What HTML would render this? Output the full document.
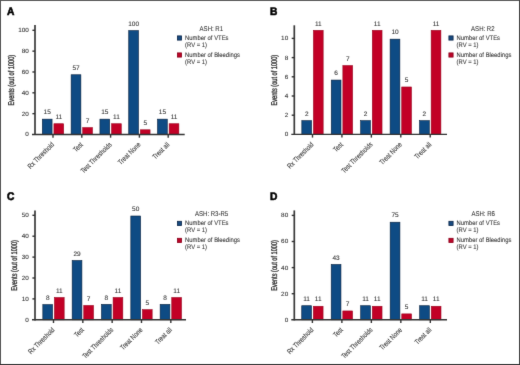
<!DOCTYPE html>
<html><head><meta charset="utf-8"><style>
html,body{margin:0;padding:0;background:#fff;}
body{width:520px;height:365px;overflow:hidden;}
svg{display:block;will-change:transform;}
text{text-rendering:geometricPrecision;font-family:"Liberation Sans", sans-serif;fill:#333;stroke:#333;stroke-width:0.08px;}
.let{font-size:11px;font-weight:bold;fill:#000;stroke:#000;stroke-width:0.6px;}
.val{font-size:6.5px;}
.tick{font-size:6.2px;}
.cat{font-size:7.2px;}
.ylab{font-size:8.4px;}
.ltitle{font-size:7.0px;}
.leg{font-size:6.6px;}
.val,.ltitle{text-anchor:middle;}
.tick,.cat{text-anchor:end;}
.ylab{text-anchor:middle;stroke:#333;stroke-width:0.36px;}
.bb{fill:#0e4b84;stroke:#061f3c;stroke-width:0.6px;}
.rb{fill:#c20026;stroke:#96001c;stroke-width:0.56px;}
.lb{fill:#174a80;stroke:#0b2548;stroke-width:0.8px;}
.lr{fill:#bb0529;stroke:#8a001a;stroke-width:0.8px;}
.ax{stroke:#333;stroke-width:1.4;}
.yax{stroke:#3a3a3a;stroke-width:1.7;}
</style></head><body>
<svg width="520" height="365" viewBox="0 0 520 365">
<defs><filter id="bl" x="0" y="0" width="1" height="1" color-interpolation-filters="sRGB"><feConvolveMatrix order="3" kernelMatrix="1 10 1 10 100 10 1 10 1" edgeMode="duplicate"/></filter></defs>
<g filter="url(#bl)">
<rect x="0" y="0" width="520" height="365" fill="#fff"/>
<line x1="0" y1="0.5" x2="520" y2="0.5" stroke="#5a5a5a"/>
<line x1="0.5" y1="0" x2="0.5" y2="365" stroke="#555"/>
<line x1="519.5" y1="0" x2="519.5" y2="365" stroke="#444"/>
<line x1="0" y1="364.5" x2="520" y2="364.5" stroke="#333"/>
<text transform="translate(6.9,14.7) scale(0.93,1)" class="let">A</text>
<rect x="42.33" y="119.15" width="9.74" height="15.35" class="bb"/>
<rect x="53.93" y="123.73" width="9.74" height="10.77" class="rb"/>
<text transform="translate(47.2,114.37)" class="val">15</text>
<text transform="translate(58.8,118.95)" class="val">11</text>
<line x1="53" y1="134.5" x2="53" y2="137.7" class="ax"/>
<text transform="translate(54.6,145.1) rotate(-45) scale(0.8,1.0)" class="cat">Rx Threshold</text>
<rect x="71.13" y="74.76" width="9.74" height="59.74" class="bb"/>
<rect x="82.73" y="127.59" width="9.74" height="6.91" class="rb"/>
<text transform="translate(76,69.98)" class="val">57</text>
<text transform="translate(87.6,122.81)" class="val">7</text>
<line x1="81.8" y1="134.5" x2="81.8" y2="137.7" class="ax"/>
<text transform="translate(83.4,145.1) rotate(-45) scale(0.8,1.0)" class="cat">Test</text>
<rect x="99.93" y="119.15" width="9.74" height="15.35" class="bb"/>
<rect x="111.53" y="123.73" width="9.74" height="10.77" class="rb"/>
<text transform="translate(104.8,114.37)" class="val">15</text>
<text transform="translate(116.4,118.95)" class="val">11</text>
<line x1="110.6" y1="134.5" x2="110.6" y2="137.7" class="ax"/>
<text transform="translate(112.2,145.1) rotate(-45) scale(0.8,1.0)" class="cat">Test Thresholds</text>
<rect x="128.73" y="30.58" width="9.74" height="103.92" class="bb"/>
<rect x="140.33" y="129.78" width="9.74" height="4.72" class="rb"/>
<text transform="translate(133.6,25.8)" class="val">100</text>
<text transform="translate(145.2,125)" class="val">5</text>
<line x1="139.4" y1="134.5" x2="139.4" y2="137.7" class="ax"/>
<text transform="translate(141,145.1) rotate(-45) scale(0.8,1.0)" class="cat">Treat None</text>
<rect x="157.53" y="119.15" width="9.74" height="15.35" class="bb"/>
<rect x="169.13" y="123.73" width="9.74" height="10.77" class="rb"/>
<text transform="translate(162.4,114.37)" class="val">15</text>
<text transform="translate(174,118.95)" class="val">11</text>
<line x1="168.2" y1="134.5" x2="168.2" y2="137.7" class="ax"/>
<text transform="translate(169.8,145.1) rotate(-45) scale(0.8,1.0)" class="cat">Treat all</text>
<line x1="35" y1="25.1" x2="35" y2="135.1" class="yax"/>
<line x1="32" y1="134.5" x2="184.7" y2="134.5" class="ax"/>
<text transform="translate(28.9,136.4) scale(1.03,1.0)" class="tick">0</text>
<line x1="32.4" y1="113.66" x2="35" y2="113.66" class="ax"/>
<text transform="translate(28.9,115.56) scale(1.03,1.0)" class="tick">20</text>
<line x1="32.4" y1="92.82" x2="35" y2="92.82" class="ax"/>
<text transform="translate(28.9,94.72) scale(1.03,1.0)" class="tick">40</text>
<line x1="32.4" y1="71.98" x2="35" y2="71.98" class="ax"/>
<text transform="translate(28.9,73.88) scale(1.03,1.0)" class="tick">60</text>
<line x1="32.4" y1="51.14" x2="35" y2="51.14" class="ax"/>
<text transform="translate(28.9,53.04) scale(1.03,1.0)" class="tick">80</text>
<line x1="32.4" y1="30.3" x2="35" y2="30.3" class="ax"/>
<text transform="translate(28.9,32.2) scale(1.03,1.0)" class="tick">100</text>
<text transform="translate(13.8,80.1) rotate(-90) scale(0.672,1.0)" class="ylab">Events (out of 1000)</text>
<text transform="translate(211.3,30.7) scale(0.86,1.0)" class="ltitle">ASH: R1</text>
<rect x="177.4" y="35.9" width="4.2" height="4.2" class="lb"/>
<rect x="177.4" y="52.9" width="4.2" height="4.2" class="lr"/>
<text transform="translate(185.1,39.9) scale(0.89,1.0)" class="leg">Number of VTEs</text>
<text transform="translate(185.1,46.9) scale(0.89,1.0)" class="leg">(RV = 1)</text>
<text transform="translate(185.1,56.7) scale(0.89,1.0)" class="leg">Number of Bleedings</text>
<text transform="translate(185.1,63.7) scale(0.89,1.0)" class="leg">(RV = 1)</text>
<text transform="translate(269.9,14.7) scale(0.93,1)" class="let">B</text>
<rect x="301.83" y="120.66" width="9.74" height="13.74" class="bb"/>
<rect x="313.43" y="30.33" width="9.74" height="104.07" class="rb"/>
<text transform="translate(306.7,115.88)" class="val">2</text>
<text transform="translate(318.3,25.55)" class="val">11</text>
<line x1="312.5" y1="134.4" x2="312.5" y2="137.6" class="ax"/>
<text transform="translate(314.1,145) rotate(-45) scale(0.8,1.0)" class="cat">Rx Threshold</text>
<rect x="331.26" y="80.06" width="9.74" height="54.34" class="bb"/>
<rect x="342.86" y="65.56" width="9.74" height="68.84" class="rb"/>
<text transform="translate(336.13,75.28)" class="val">6</text>
<text transform="translate(347.73,60.78)" class="val">7</text>
<line x1="341.93" y1="134.4" x2="341.93" y2="137.6" class="ax"/>
<text transform="translate(343.53,145) rotate(-45) scale(0.8,1.0)" class="cat">Test</text>
<rect x="360.69" y="120.66" width="9.74" height="13.74" class="bb"/>
<rect x="372.29" y="30.33" width="9.74" height="104.07" class="rb"/>
<text transform="translate(365.56,115.88)" class="val">2</text>
<text transform="translate(377.16,25.55)" class="val">11</text>
<line x1="371.36" y1="134.4" x2="371.36" y2="137.6" class="ax"/>
<text transform="translate(372.96,145) rotate(-45) scale(0.8,1.0)" class="cat">Test Thresholds</text>
<rect x="390.12" y="39.16" width="9.74" height="95.24" class="bb"/>
<rect x="401.72" y="86.97" width="9.74" height="47.43" class="rb"/>
<text transform="translate(394.99,34.38)" class="val">10</text>
<text transform="translate(406.59,82.19)" class="val">5</text>
<line x1="400.79" y1="134.4" x2="400.79" y2="137.6" class="ax"/>
<text transform="translate(402.39,145) rotate(-45) scale(0.8,1.0)" class="cat">Treat None</text>
<rect x="419.55" y="120.66" width="9.74" height="13.74" class="bb"/>
<rect x="431.15" y="30.33" width="9.74" height="104.07" class="rb"/>
<text transform="translate(424.42,115.88)" class="val">2</text>
<text transform="translate(436.02,25.55)" class="val">11</text>
<line x1="430.22" y1="134.4" x2="430.22" y2="137.6" class="ax"/>
<text transform="translate(431.82,145) rotate(-45) scale(0.8,1.0)" class="cat">Treat all</text>
<line x1="294.3" y1="25.3" x2="294.3" y2="135" class="yax"/>
<line x1="291.3" y1="134.4" x2="447" y2="134.4" class="ax"/>
<text transform="translate(288.2,136.3) scale(1.03,1.0)" class="tick">0</text>
<line x1="291.7" y1="115.2" x2="294.3" y2="115.2" class="ax"/>
<text transform="translate(288.2,117.1) scale(1.03,1.0)" class="tick">2</text>
<line x1="291.7" y1="96" x2="294.3" y2="96" class="ax"/>
<text transform="translate(288.2,97.9) scale(1.03,1.0)" class="tick">4</text>
<line x1="291.7" y1="76.8" x2="294.3" y2="76.8" class="ax"/>
<text transform="translate(288.2,78.7) scale(1.03,1.0)" class="tick">6</text>
<line x1="291.7" y1="57.6" x2="294.3" y2="57.6" class="ax"/>
<text transform="translate(288.2,59.5) scale(1.03,1.0)" class="tick">8</text>
<line x1="291.7" y1="38.4" x2="294.3" y2="38.4" class="ax"/>
<text transform="translate(288.2,40.3) scale(1.03,1.0)" class="tick">10</text>
<text transform="translate(276.7,80.15) rotate(-90) scale(0.672,1.0)" class="ylab">Events (out of 1000)</text>
<text transform="translate(482.8,30.7) scale(0.86,1.0)" class="ltitle">ASH: R2</text>
<rect x="448.9" y="35.9" width="4.2" height="4.2" class="lb"/>
<rect x="448.9" y="52.9" width="4.2" height="4.2" class="lr"/>
<text transform="translate(456.6,39.9) scale(0.89,1.0)" class="leg">Number of VTEs</text>
<text transform="translate(456.6,46.9) scale(0.89,1.0)" class="leg">(RV = 1)</text>
<text transform="translate(456.6,56.7) scale(0.89,1.0)" class="leg">Number of Bleedings</text>
<text transform="translate(456.6,63.7) scale(0.89,1.0)" class="leg">(RV = 1)</text>
<text transform="translate(6.9,200.2) scale(0.93,1)" class="let">C</text>
<rect x="42.83" y="304.61" width="9.74" height="15.19" class="bb"/>
<rect x="54.43" y="297.51" width="9.74" height="22.29" class="rb"/>
<text transform="translate(47.7,299.83)" class="val">8</text>
<text transform="translate(59.3,292.73)" class="val">11</text>
<line x1="53.5" y1="319.8" x2="53.5" y2="323" class="ax"/>
<text transform="translate(55.1,330.4) rotate(-45) scale(0.8,1.0)" class="cat">Rx Threshold</text>
<rect x="72.16" y="260.51" width="9.74" height="59.28" class="bb"/>
<rect x="83.76" y="305.45" width="9.74" height="14.35" class="rb"/>
<text transform="translate(77.03,255.74)" class="val">29</text>
<text transform="translate(88.63,300.67)" class="val">7</text>
<line x1="82.83" y1="319.8" x2="82.83" y2="323" class="ax"/>
<text transform="translate(84.43,330.4) rotate(-45) scale(0.8,1.0)" class="cat">Test</text>
<rect x="101.49" y="304.4" width="9.74" height="15.39" class="bb"/>
<rect x="113.09" y="297.51" width="9.74" height="22.29" class="rb"/>
<text transform="translate(106.36,299.62)" class="val">8</text>
<text transform="translate(117.96,292.73)" class="val">11</text>
<line x1="112.16" y1="319.8" x2="112.16" y2="323" class="ax"/>
<text transform="translate(113.76,330.4) rotate(-45) scale(0.8,1.0)" class="cat">Test Thresholds</text>
<rect x="130.82" y="216" width="9.74" height="103.8" class="bb"/>
<rect x="142.42" y="309.63" width="9.74" height="10.17" class="rb"/>
<text transform="translate(135.69,211.22)" class="val">50</text>
<text transform="translate(147.29,304.85)" class="val">5</text>
<line x1="141.49" y1="319.8" x2="141.49" y2="323" class="ax"/>
<text transform="translate(143.09,330.4) rotate(-45) scale(0.8,1.0)" class="cat">Treat None</text>
<rect x="160.15" y="304.4" width="9.74" height="15.39" class="bb"/>
<rect x="171.75" y="297.51" width="9.74" height="22.29" class="rb"/>
<text transform="translate(165.02,299.62)" class="val">8</text>
<text transform="translate(176.62,292.73)" class="val">11</text>
<line x1="170.82" y1="319.8" x2="170.82" y2="323" class="ax"/>
<text transform="translate(172.42,330.4) rotate(-45) scale(0.8,1.0)" class="cat">Treat all</text>
<line x1="35" y1="210.4" x2="35" y2="320.4" class="yax"/>
<line x1="32" y1="319.8" x2="186" y2="319.8" class="ax"/>
<text transform="translate(28.9,321.7) scale(1.03,1.0)" class="tick">0</text>
<line x1="32.4" y1="298.9" x2="35" y2="298.9" class="ax"/>
<text transform="translate(28.9,300.8) scale(1.03,1.0)" class="tick">10</text>
<line x1="32.4" y1="278" x2="35" y2="278" class="ax"/>
<text transform="translate(28.9,279.9) scale(1.03,1.0)" class="tick">20</text>
<line x1="32.4" y1="257.1" x2="35" y2="257.1" class="ax"/>
<text transform="translate(28.9,259) scale(1.03,1.0)" class="tick">30</text>
<line x1="32.4" y1="236.2" x2="35" y2="236.2" class="ax"/>
<text transform="translate(28.9,238.1) scale(1.03,1.0)" class="tick">40</text>
<line x1="32.4" y1="215.3" x2="35" y2="215.3" class="ax"/>
<text transform="translate(28.9,217.2) scale(1.03,1.0)" class="tick">50</text>
<text transform="translate(17.4,265.4) rotate(-90) scale(0.672,1.0)" class="ylab">Events (out of 1000)</text>
<text transform="translate(211.6,216.1) scale(0.86,1.0)" class="ltitle">ASH: R3-R5</text>
<rect x="177.4" y="221.3" width="4.2" height="4.2" class="lb"/>
<rect x="177.4" y="238.3" width="4.2" height="4.2" class="lr"/>
<text transform="translate(185.1,225.3) scale(0.89,1.0)" class="leg">Number of VTEs</text>
<text transform="translate(185.1,232.3) scale(0.89,1.0)" class="leg">(RV = 1)</text>
<text transform="translate(185.1,242.1) scale(0.89,1.0)" class="leg">Number of Bleedings</text>
<text transform="translate(185.1,249.1) scale(0.89,1.0)" class="leg">(RV = 1)</text>
<text transform="translate(269.9,200.2) scale(0.93,1)" class="let">D</text>
<rect x="301.73" y="305.72" width="9.74" height="14.07" class="bb"/>
<rect x="313.33" y="306.25" width="9.74" height="13.55" class="rb"/>
<text transform="translate(306.6,300.94)" class="val">11</text>
<text transform="translate(318.2,301.47)" class="val">11</text>
<line x1="312.4" y1="319.8" x2="312.4" y2="323" class="ax"/>
<text transform="translate(314,330.4) rotate(-45) scale(0.8,1.0)" class="cat">Rx Threshold</text>
<rect x="331.21" y="264.49" width="9.74" height="55.31" class="bb"/>
<rect x="342.81" y="310.94" width="9.74" height="8.86" class="rb"/>
<text transform="translate(336.08,259.71)" class="val">43</text>
<text transform="translate(347.68,306.17)" class="val">7</text>
<line x1="341.88" y1="319.8" x2="341.88" y2="323" class="ax"/>
<text transform="translate(343.48,330.4) rotate(-45) scale(0.8,1.0)" class="cat">Test</text>
<rect x="360.69" y="305.72" width="9.74" height="14.07" class="bb"/>
<rect x="372.29" y="306.25" width="9.74" height="13.55" class="rb"/>
<text transform="translate(365.56,300.94)" class="val">11</text>
<text transform="translate(377.16,301.47)" class="val">11</text>
<line x1="371.36" y1="319.8" x2="371.36" y2="323" class="ax"/>
<text transform="translate(372.96,330.4) rotate(-45) scale(0.8,1.0)" class="cat">Test Thresholds</text>
<rect x="390.17" y="222.21" width="9.74" height="97.59" class="bb"/>
<rect x="401.77" y="313.88" width="9.74" height="5.92" class="rb"/>
<text transform="translate(395.04,217.43)" class="val">75</text>
<text transform="translate(406.64,309.1)" class="val">5</text>
<line x1="400.84" y1="319.8" x2="400.84" y2="323" class="ax"/>
<text transform="translate(402.44,330.4) rotate(-45) scale(0.8,1.0)" class="cat">Treat None</text>
<rect x="419.65" y="305.72" width="9.74" height="14.07" class="bb"/>
<rect x="431.25" y="306.25" width="9.74" height="13.55" class="rb"/>
<text transform="translate(424.52,300.94)" class="val">11</text>
<text transform="translate(436.12,301.47)" class="val">11</text>
<line x1="430.32" y1="319.8" x2="430.32" y2="323" class="ax"/>
<text transform="translate(431.92,330.4) rotate(-45) scale(0.8,1.0)" class="cat">Treat all</text>
<line x1="294.3" y1="210.4" x2="294.3" y2="320.4" class="yax"/>
<line x1="291.3" y1="319.8" x2="447" y2="319.8" class="ax"/>
<text transform="translate(288.2,321.7) scale(1.03,1.0)" class="tick">0</text>
<line x1="291.7" y1="293.7" x2="294.3" y2="293.7" class="ax"/>
<text transform="translate(288.2,295.6) scale(1.03,1.0)" class="tick">20</text>
<line x1="291.7" y1="267.6" x2="294.3" y2="267.6" class="ax"/>
<text transform="translate(288.2,269.5) scale(1.03,1.0)" class="tick">40</text>
<line x1="291.7" y1="241.5" x2="294.3" y2="241.5" class="ax"/>
<text transform="translate(288.2,243.4) scale(1.03,1.0)" class="tick">60</text>
<line x1="291.7" y1="215.4" x2="294.3" y2="215.4" class="ax"/>
<text transform="translate(288.2,217.3) scale(1.03,1.0)" class="tick">80</text>
<text transform="translate(276.7,265.4) rotate(-90) scale(0.672,1.0)" class="ylab">Events (out of 1000)</text>
<text transform="translate(483.2,216.1) scale(0.86,1.0)" class="ltitle">ASH: R6</text>
<rect x="448.9" y="221.3" width="4.2" height="4.2" class="lb"/>
<rect x="448.9" y="238.3" width="4.2" height="4.2" class="lr"/>
<text transform="translate(456.6,225.3) scale(0.89,1.0)" class="leg">Number of VTEs</text>
<text transform="translate(456.6,232.3) scale(0.89,1.0)" class="leg">(RV = 1)</text>
<text transform="translate(456.6,242.1) scale(0.89,1.0)" class="leg">Number of Bleedings</text>
<text transform="translate(456.6,249.1) scale(0.89,1.0)" class="leg">(RV = 1)</text>
</g>
</svg>
</body></html>
